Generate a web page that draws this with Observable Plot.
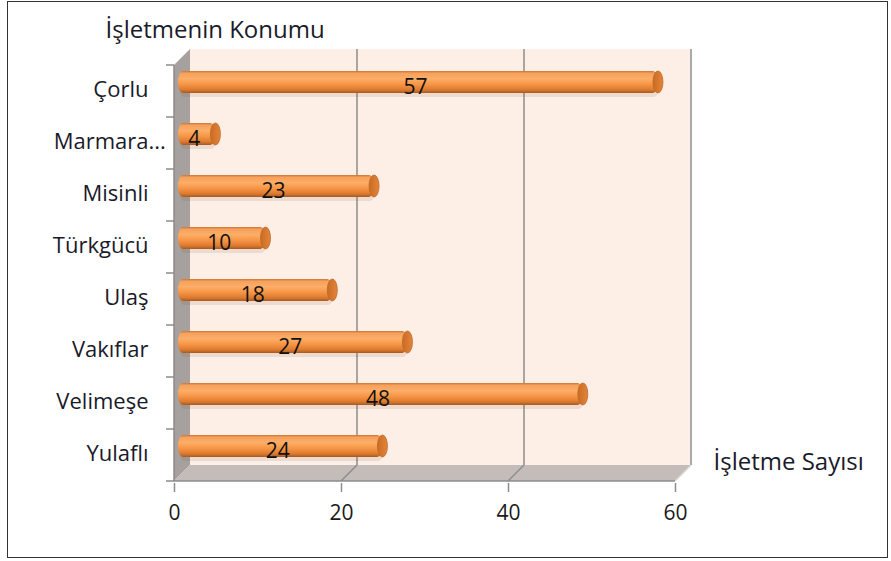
<!DOCTYPE html>
<html>
<head>
<meta charset="utf-8">
<script src="https://cdn.jsdelivr.net/npm/d3@7"></script>
<script src="https://cdn.jsdelivr.net/npm/@observablehq/plot@0.6"></script>
<style>
  html, body { margin: 0; padding: 0; background: #fff; }
  #wrap { position: relative; width: 891px; height: 561px; overflow: hidden; }
  #wrap svg { position: absolute; left: 0; top: 0; }
  #border { position: absolute; left: 7px; top: 1px; width: 881px; height: 557px; border: 1.5px solid #333; box-sizing: border-box; pointer-events: none; }
</style>
</head>
<body>
<div id="wrap"><div id="border"></div></div>
<script>
// ---- data ----
const categories = ["Çorlu", "Marmara…", "Misinli", "Türkgücü", "Ulaş", "Vakıflar", "Velimeşe", "Yulaflı"];
const counts = [57, 4, 23, 10, 18, 27, 48, 24];
const xTicks = [0, 20, 40, 60];
const gridValues = [20, 40, 60];
const yTitle = "İşletmenin Konumu";
const xTitle = "İşletme Sayısı";

const data = categories.map((c, i) => ({category: c, count: counts[i]}));
const truncated = categories.filter(c => c.endsWith("…"));

// ---- style ----
const D = 16;           // 3D depth in px
const HALF = 8;         // bars sit at mid depth
const FONT = "'Open Sans', 'Noto Sans', sans-serif";

function bandEdges(y, dims) {
  const top = dims.marginTop, bot = dims.height - dims.marginBottom;
  const bw = typeof y.bandwidth === "function" ? y.bandwidth() : (bot - top) / categories.length;
  const edges = categories.map(c => y(c));
  edges.push(y(categories[categories.length - 1]) + bw);
  return edges;
}

// back wall, left wall, floor, gridlines (drawn with the plot's scales)
function walls(index, scales, values, dims) {
  const {x, y} = scales;
  const X0 = x(xTicks[0]), X1 = x(xTicks[xTicks.length - 1]);
  const edges = bandEdges(y, dims);
  const Yt = edges[0], Yb = edges[edges.length - 1];
  const last = xTicks[xTicks.length - 1];
  const g = d3.create("svg:g");
  g.append("rect").attr("x", X0 + D).attr("y", Yt - D).attr("width", X1 - X0).attr("height", Yb - Yt)
    .attr("fill", "#fdeee6");
  for (const v of gridValues) {
    g.append("line").attr("x1", x(v) + D).attr("x2", x(v) + D).attr("y1", Yt - D).attr("y2", Yb - D)
      .attr("stroke", v === last ? "#a9a9a9" : "#8c8c8c").attr("stroke-width", v === last ? 2 : 1.5);
  }
  g.append("path").attr("d", `M${X0},${Yb}L${X0},${Yt}L${X0 + D},${Yt - D}L${X0 + D},${Yb - D}Z`)
    .attr("fill", "#a6a19e");
  g.append("path").attr("d", `M${X0},${Yb}L${X1},${Yb}L${X1 + D},${Yb - D}L${X0 + D},${Yb - D}Z`)
    .attr("fill", "#c3bcb9");
  for (const v of gridValues) {
    g.append("line").attr("x1", x(v)).attr("y1", Yb).attr("x2", x(v) + D).attr("y2", Yb - D)
      .attr("stroke", v === last ? "#d9d4d2" : "#8c8c8c").attr("stroke-width", 1.5);
  }
  g.append("path").attr("d", `M${X0},${Yt}L${X0},${Yb}L${X1},${Yb}`)
    .attr("fill", "none").attr("stroke", "#8c8c8c").attr("stroke-width", 1.5);
  for (const e of edges) {
    g.append("line").attr("x1", X0 - 8).attr("x2", X0).attr("y1", e).attr("y2", e)
      .attr("stroke", "#8c8c8c").attr("stroke-width", 1.5);
  }
  return g.node();
}

const plot = Plot.plot({
  width: 891,
  height: 561,
  marginLeft: 174,
  marginRight: 216,
  marginTop: 62,
  marginBottom: 78,
  style: {fontFamily: FONT, fontSize: "21px", color: "#1a1a1a", background: "transparent"},
  x: {domain: [xTicks[0], xTicks[xTicks.length - 1]]},
  y: {domain: categories, padding: 0},
  marks: [
    walls,
    Plot.axisX(xTicks, {tickSize: 9, tickPadding: 13, stroke: "#8c8c8c", strokeWidth: 1.5, fontSize: 21, label: null, fill: "#1a1a1a"}),
    Plot.axisY({tickSize: 0, tickPadding: 26, fontSize: 22, label: null, fill: "#1a1a2a", dy: -2,
      tickFormat: d => d.replace("…", "")}),
    // ellipsis of the truncated label, overhanging the label column as in the original
    Plot.text(truncated, {y: d => d, frameAnchor: "left", text: () => "...", textAnchor: "start", dx: -26, dy: -2,
      fontSize: 22, fill: "#1a1a2a"}),
    // soft shadow under bars
    Plot.barX(data, {x: "count", y: "category", dx: HALF + 1, dy: -HALF + 3, insetTop: 15, insetBottom: 15, insetLeft: -4,
      fill: "#7a4a30", fillOpacity: 0.12, rx: 5, ry: 11}),
    // cylinder body
    Plot.barX(data, {x: "count", y: "category", dx: HALF, dy: -HALF - 1, insetTop: 15, insetBottom: 15, insetLeft: -4,
      fill: "url(#cyl)", rx: 5, ry: 11}),
    // cylinder end cap
    Plot.barX(data, {x1: "count", x2: "count", y: "category", dx: HALF, dy: -HALF - 1, insetTop: 15, insetBottom: 15,
      insetLeft: -5, insetRight: -5, fill: "url(#cap)", stroke: "#bb6a28", strokeWidth: 0.8, rx: 5, ry: 11}),
    // value labels
    Plot.text(data, {x: d => d.count / 2, y: "category", text: d => String(d.count), dx: 3, dy: -4,
      fontSize: 21, fill: "#111"}),
    // axis titles
    Plot.text([yTitle], {frameAnchor: "top-left", textAnchor: "start", lineAnchor: "middle", dx: -69, dy: -32,
      fontSize: 24, fill: "#1a1a2a"}),
    Plot.text([xTitle], {frameAnchor: "bottom-right", textAnchor: "start", lineAnchor: "middle", dx: 38, dy: -21,
      fontSize: 24, fill: "#1a1a2a"})
  ]
});

plot.insertAdjacentHTML("afterbegin", `
<defs>
  <linearGradient id="cyl" x1="0" y1="0" x2="0" y2="1">
    <stop offset="0" stop-color="#c77632"/>
    <stop offset="0.1" stop-color="#f6a05c"/>
    <stop offset="0.35" stop-color="#fcae68"/>
    <stop offset="0.6" stop-color="#f79646"/>
    <stop offset="0.85" stop-color="#dc7b30"/>
    <stop offset="1" stop-color="#a9581d"/>
  </linearGradient>
  <linearGradient id="cap" x1="0" y1="0" x2="1" y2="0">
    <stop offset="0" stop-color="#c96c24"/>
    <stop offset="0.6" stop-color="#d97a30"/>
    <stop offset="1" stop-color="#e4863a"/>
  </linearGradient>
</defs>`);

document.getElementById("wrap").prepend(plot);
</script>
</body>
</html>
